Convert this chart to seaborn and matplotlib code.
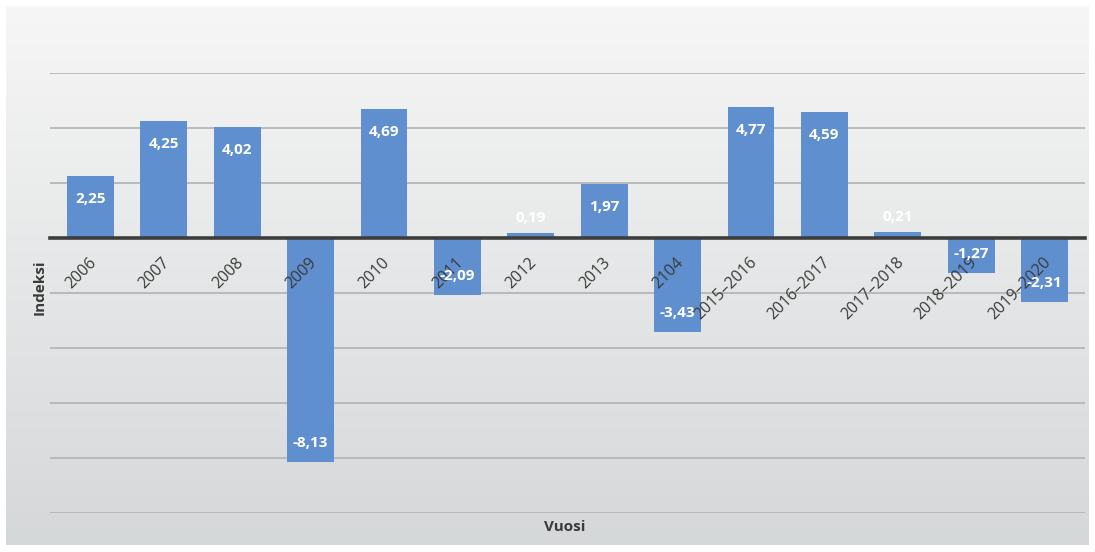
"""Bar chart of yearly index values (Indeksi by Vuosi)."""

import numpy as np
import matplotlib
matplotlib.use("Agg")
import matplotlib.pyplot as plt
import matplotlib.transforms as mtransforms
import seaborn as sns

# Data
categories = ["2006", "2007", "2008", "2009", "2010", "2011", "2012", "2013", "2104",
              "2015–2016", "2016–2017", "2017–2018", "2018–2019", "2019–2020"]
values = [2.25, 4.25, 4.02, -8.13, 4.69, -2.09, 0.19, 1.97, -3.43,
          4.77, 4.59, 0.21, -1.27, -2.31]
gridlines = [-10, -8, -6, -4, -2, 2, 4, 6]

BAR_COLOR = "#5f8fcf"
TEXT_COLOR = "#3a3a3a"

sns.set_theme(style="white")
plt.rcParams["font.family"] = ["Open Sans", "DejaVu Sans"]

W, H = 1095, 552
fig = plt.figure(figsize=(W / 100, H / 100), dpi=100)
fig.patch.set_facecolor("white")

# gradient backdrop like the slide background
bg = fig.add_axes([6 / W, 7 / H, 1 - 12 / W, 1 - 13 / H])
grad = np.linspace(0, 1, 256).reshape(-1, 1)
top = np.array([0.965, 0.965, 0.965])
bot = np.array([0.835, 0.845, 0.85])
img = top + (bot - top) * grad[..., None]
img = np.repeat(img, 2, axis=1)
bg.imshow(img, aspect="auto", extent=[0, 1, 0, 1])
bg.axis("off")

ax = fig.add_axes([50 / W, 1 - 513 / H, (1085 - 50) / W, (513 - 73) / H])
ax.patch.set_alpha(0)

sns.barplot(x=categories, y=values, color=BAR_COLOR, saturation=1, width=0.64,
            linewidth=0, ax=ax, zorder=2)
ax.set_axisbelow(False)

ax.set_ylim(-10, 6)
ax.set_xlim(-0.55, len(categories) - 0.45)
for g in gridlines:
    ax.axhline(g, color="#b2b2b2", lw=1.2, zorder=0)

for side in ["top", "right", "left"]:
    ax.spines[side].set_visible(False)
ax.spines["bottom"].set_position(("data", 0))
ax.spines["bottom"].set_color("#3d3d3d")
ax.spines["bottom"].set_linewidth(2.6)
ax.spines["bottom"].set_zorder(3)
ax.set_yticks([])
ax.set_xlabel("")
ax.set_ylabel("")
ax.tick_params(axis="x", length=0, pad=12, labelsize=11.5, labelcolor=TEXT_COLOR)

offset = mtransforms.ScaledTranslation(-2 / 100, 0, fig.dpi_scale_trans)
for lab in ax.get_xticklabels():
    lab.set_rotation(45)
    lab.set_ha("right")
    lab.set_va("top")
    lab.set_rotation_mode("anchor")
    lab.set_transform(lab.get_transform() + offset)

# value labels
for i, v in enumerate(values):
    if abs(v) < 0.5:
        dy = 15
    elif v > 0:
        dy = -23
    else:
        dy = 19
    ax.annotate(f"{v:.2f}".replace(".", ","), (i, v), xytext=(0, dy),
                textcoords="offset pixels", ha="center", va="center",
                color="white", fontsize=11, fontweight="bold", zorder=5)

fig.text(40 / W, 1 - 287 / H, "Indeksi", rotation=90, ha="center", va="center",
         fontsize=11, fontweight="bold", color=TEXT_COLOR)
fig.text(565 / W, 1 - 527 / H, "Vuosi", ha="center", va="center",
         fontsize=11, fontweight="bold", color=TEXT_COLOR)

fig.savefig("out.png", dpi=100)
